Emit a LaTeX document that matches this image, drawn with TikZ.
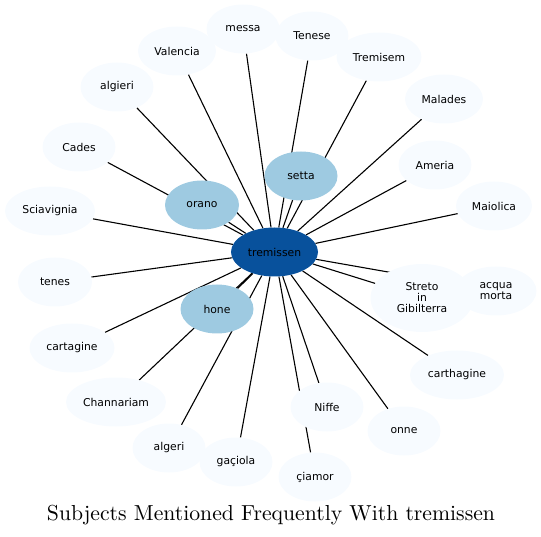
\documentclass[tikz,border=0pt]{standalone}
\usepackage{fontspec}
\newfontfamily\dejavu{DejaVu Sans}
\newfontfamily\titlefont{lmroman10-regular.otf}
\usetikzlibrary{shapes.geometric,backgrounds}
\definecolor{cdark}{HTML}{08519C}
\definecolor{cmid}{HTML}{9ECAE1}
\definecolor{clight}{HTML}{F7FBFF}
\tikzset{
  nd/.style={ellipse,inner sep=0pt,minimum width=#1,minimum height=49pt,fill=clight,
    font=\dejavu\fontsize{10.8}{12}\selectfont,align=center},
  nd/.default=73pt,
  mid/.style={fill=cmid},
  hub/.style={fill=cdark},
  link/.style={draw=black,line width=1.1pt}
}
\begin{document}
\begin{tikzpicture}[x=1pt,y=-1pt]
\useasboundingbox (0,0) rectangle (541,537);
\node[nd=87pt,hub] (trem) at (274.5,252) {tremissen};
\node[nd,mid] (setta) at (301,176) {setta};
\node[nd=74pt,mid] (orano) at (202,205) {orano};
\node[nd,mid] (hone) at (217,309) {hone};
\node[nd] (messa) at (243,29) {messa};
\node[nd=78pt] (valencia) at (177,51) {Valencia};
\node[nd] (tenese) at (312,36) {Tenese};
\node[nd=85pt] (tremisem) at (379,57) {Tremisem};
\node[nd] (algieri) at (117,87) {algieri};
\node[nd=78pt] (malades) at (444,99) {Malades};
\node[nd] (cades) at (79,147) {Cades};
\node[nd] (ameria) at (435,165) {Ameria};
\node[nd=76pt] (maiolica) at (494,206) {Maiolica};
\node[nd=90pt] (sciav) at (50,211) {Sciavignia};
\node[nd=74pt] (tenes) at (55,282) {tenes};
\node[nd=81pt] (acqua) at (496,291) {acqua\\[-1pt]morta};
\node[nd=103pt,minimum height=68pt] (streto) at (422,298) {Streto\\[-1pt]in\\[-1pt]Gibilterra};
\node[nd=85pt] (cartagine) at (72,348) {cartagine};
\node[nd=94pt] (carthagine) at (457,375) {carthagine};
\node[nd=100pt] (chann) at (116,402) {Channariam};
\node[nd] (niffe) at (327,407) {Niffe};
\node[nd] (onne) at (404,431) {onne};
\node[nd] (algeri) at (169,448) {algeri};
\node[nd] (gaciola) at (236,462) {gaçiola};
\node[nd] (ciamor) at (315,477) {çiamor};
\node[font=\titlefont\fontsize{21.7}{24}\selectfont] (title) at (271,515) {Subjects Mentioned Frequently With tremissen};
\begin{scope}[on background layer]
\foreach \n in {setta,orano,hone,messa,valencia,tenese,tremisem,algieri,malades,cades,ameria,maiolica,sciav,tenes,acqua,streto,cartagine,carthagine,chann,niffe,onne,algeri,gaciola,ciamor}
  \draw[link] (trem) -- (\n);
\end{scope}
\end{tikzpicture}
\end{document}
